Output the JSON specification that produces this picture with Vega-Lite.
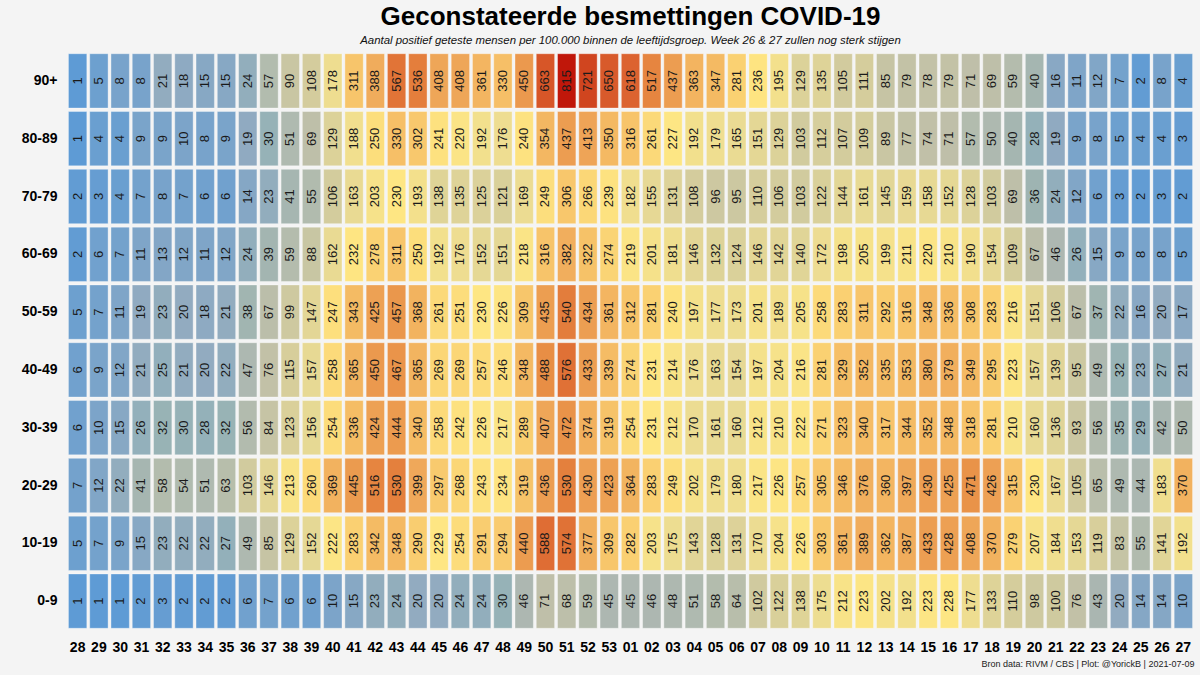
{
"$schema": "https://vega.github.io/schema/vega-lite/v6.json",
"width": 1127, "height": 578,
"autosize": {"type": "none"},
"padding": {"left": 67, "top": 52, "right": 6, "bottom": 45},
"background": "#f4f4f4",
"config": {"view": {"stroke": null}, "font": "Liberation Sans"},
"title": {"text": "Geconstateerde besmettingen COVID-19", "subtitle": "Aantal positief geteste mensen per 100.000 binnen de leeftijdsgroep. Week 26 & 27 zullen nog sterk stijgen", "font": "Liberation Sans", "fontSize": 26, "fontWeight": "bold", "color": "#000", "subtitleFont": "Liberation Sans", "subtitleFontSize": 11.4, "subtitleFontStyle": "italic", "subtitleColor": "#111", "subtitlePadding": 5, "anchor": "middle", "offset": 6},
"data": {"values": [
{"a":"90+","w":"28","v":1},{"a":"90+","w":"29","v":5},{"a":"90+","w":"30","v":8},{"a":"90+","w":"31","v":8},{"a":"90+","w":"32","v":21},{"a":"90+","w":"33","v":18},{"a":"90+","w":"34","v":15},{"a":"90+","w":"35","v":15},{"a":"90+","w":"36","v":24},{"a":"90+","w":"37","v":57},{"a":"90+","w":"38","v":90},{"a":"90+","w":"39","v":108},{"a":"90+","w":"40","v":178},{"a":"90+","w":"41","v":311},{"a":"90+","w":"42","v":388},{"a":"90+","w":"43","v":567},{"a":"90+","w":"44","v":536},{"a":"90+","w":"45","v":408},{"a":"90+","w":"46","v":408},{"a":"90+","w":"47","v":361},{"a":"90+","w":"48","v":330},{"a":"90+","w":"49","v":450},{"a":"90+","w":"50","v":663},{"a":"90+","w":"51","v":815},{"a":"90+","w":"52","v":721},{"a":"90+","w":"53","v":650},{"a":"90+","w":"01","v":618},{"a":"90+","w":"02","v":517},{"a":"90+","w":"03","v":437},{"a":"90+","w":"04","v":363},{"a":"90+","w":"05","v":347},{"a":"90+","w":"06","v":281},{"a":"90+","w":"07","v":236},{"a":"90+","w":"08","v":195},{"a":"90+","w":"09","v":129},{"a":"90+","w":"10","v":135},{"a":"90+","w":"11","v":105},{"a":"90+","w":"12","v":111},{"a":"90+","w":"13","v":85},{"a":"90+","w":"14","v":79},{"a":"90+","w":"15","v":78},{"a":"90+","w":"16","v":79},{"a":"90+","w":"17","v":71},{"a":"90+","w":"18","v":69},{"a":"90+","w":"19","v":59},{"a":"90+","w":"20","v":40},{"a":"90+","w":"21","v":16},{"a":"90+","w":"22","v":11},{"a":"90+","w":"23","v":12},{"a":"90+","w":"24","v":7},{"a":"90+","w":"25","v":2},{"a":"90+","w":"26","v":8},{"a":"90+","w":"27","v":4},
{"a":"80-89","w":"28","v":1},{"a":"80-89","w":"29","v":4},{"a":"80-89","w":"30","v":4},{"a":"80-89","w":"31","v":9},{"a":"80-89","w":"32","v":9},{"a":"80-89","w":"33","v":10},{"a":"80-89","w":"34","v":8},{"a":"80-89","w":"35","v":9},{"a":"80-89","w":"36","v":19},{"a":"80-89","w":"37","v":30},{"a":"80-89","w":"38","v":51},{"a":"80-89","w":"39","v":69},{"a":"80-89","w":"40","v":129},{"a":"80-89","w":"41","v":188},{"a":"80-89","w":"42","v":250},{"a":"80-89","w":"43","v":330},{"a":"80-89","w":"44","v":302},{"a":"80-89","w":"45","v":241},{"a":"80-89","w":"46","v":220},{"a":"80-89","w":"47","v":192},{"a":"80-89","w":"48","v":176},{"a":"80-89","w":"49","v":240},{"a":"80-89","w":"50","v":354},{"a":"80-89","w":"51","v":437},{"a":"80-89","w":"52","v":413},{"a":"80-89","w":"53","v":350},{"a":"80-89","w":"01","v":316},{"a":"80-89","w":"02","v":261},{"a":"80-89","w":"03","v":227},{"a":"80-89","w":"04","v":192},{"a":"80-89","w":"05","v":179},{"a":"80-89","w":"06","v":165},{"a":"80-89","w":"07","v":151},{"a":"80-89","w":"08","v":129},{"a":"80-89","w":"09","v":103},{"a":"80-89","w":"10","v":112},{"a":"80-89","w":"11","v":107},{"a":"80-89","w":"12","v":109},{"a":"80-89","w":"13","v":89},{"a":"80-89","w":"14","v":77},{"a":"80-89","w":"15","v":74},{"a":"80-89","w":"16","v":71},{"a":"80-89","w":"17","v":57},{"a":"80-89","w":"18","v":50},{"a":"80-89","w":"19","v":40},{"a":"80-89","w":"20","v":28},{"a":"80-89","w":"21","v":19},{"a":"80-89","w":"22","v":9},{"a":"80-89","w":"23","v":8},{"a":"80-89","w":"24","v":5},{"a":"80-89","w":"25","v":4},{"a":"80-89","w":"26","v":4},{"a":"80-89","w":"27","v":3},
{"a":"70-79","w":"28","v":2},{"a":"70-79","w":"29","v":3},{"a":"70-79","w":"30","v":4},{"a":"70-79","w":"31","v":7},{"a":"70-79","w":"32","v":8},{"a":"70-79","w":"33","v":7},{"a":"70-79","w":"34","v":6},{"a":"70-79","w":"35","v":6},{"a":"70-79","w":"36","v":14},{"a":"70-79","w":"37","v":23},{"a":"70-79","w":"38","v":41},{"a":"70-79","w":"39","v":55},{"a":"70-79","w":"40","v":106},{"a":"70-79","w":"41","v":163},{"a":"70-79","w":"42","v":203},{"a":"70-79","w":"43","v":230},{"a":"70-79","w":"44","v":193},{"a":"70-79","w":"45","v":138},{"a":"70-79","w":"46","v":135},{"a":"70-79","w":"47","v":125},{"a":"70-79","w":"48","v":121},{"a":"70-79","w":"49","v":169},{"a":"70-79","w":"50","v":249},{"a":"70-79","w":"51","v":306},{"a":"70-79","w":"52","v":266},{"a":"70-79","w":"53","v":239},{"a":"70-79","w":"01","v":182},{"a":"70-79","w":"02","v":155},{"a":"70-79","w":"03","v":131},{"a":"70-79","w":"04","v":108},{"a":"70-79","w":"05","v":96},{"a":"70-79","w":"06","v":95},{"a":"70-79","w":"07","v":110},{"a":"70-79","w":"08","v":106},{"a":"70-79","w":"09","v":103},{"a":"70-79","w":"10","v":122},{"a":"70-79","w":"11","v":144},{"a":"70-79","w":"12","v":161},{"a":"70-79","w":"13","v":145},{"a":"70-79","w":"14","v":159},{"a":"70-79","w":"15","v":158},{"a":"70-79","w":"16","v":152},{"a":"70-79","w":"17","v":128},{"a":"70-79","w":"18","v":103},{"a":"70-79","w":"19","v":69},{"a":"70-79","w":"20","v":36},{"a":"70-79","w":"21","v":24},{"a":"70-79","w":"22","v":12},{"a":"70-79","w":"23","v":6},{"a":"70-79","w":"24","v":3},{"a":"70-79","w":"25","v":2},{"a":"70-79","w":"26","v":3},{"a":"70-79","w":"27","v":2},
{"a":"60-69","w":"28","v":2},{"a":"60-69","w":"29","v":6},{"a":"60-69","w":"30","v":7},{"a":"60-69","w":"31","v":11},{"a":"60-69","w":"32","v":13},{"a":"60-69","w":"33","v":12},{"a":"60-69","w":"34","v":11},{"a":"60-69","w":"35","v":12},{"a":"60-69","w":"36","v":24},{"a":"60-69","w":"37","v":39},{"a":"60-69","w":"38","v":59},{"a":"60-69","w":"39","v":88},{"a":"60-69","w":"40","v":162},{"a":"60-69","w":"41","v":232},{"a":"60-69","w":"42","v":278},{"a":"60-69","w":"43","v":311},{"a":"60-69","w":"44","v":250},{"a":"60-69","w":"45","v":192},{"a":"60-69","w":"46","v":176},{"a":"60-69","w":"47","v":152},{"a":"60-69","w":"48","v":151},{"a":"60-69","w":"49","v":218},{"a":"60-69","w":"50","v":316},{"a":"60-69","w":"51","v":382},{"a":"60-69","w":"52","v":322},{"a":"60-69","w":"53","v":274},{"a":"60-69","w":"01","v":219},{"a":"60-69","w":"02","v":201},{"a":"60-69","w":"03","v":181},{"a":"60-69","w":"04","v":146},{"a":"60-69","w":"05","v":132},{"a":"60-69","w":"06","v":124},{"a":"60-69","w":"07","v":146},{"a":"60-69","w":"08","v":142},{"a":"60-69","w":"09","v":140},{"a":"60-69","w":"10","v":172},{"a":"60-69","w":"11","v":198},{"a":"60-69","w":"12","v":205},{"a":"60-69","w":"13","v":199},{"a":"60-69","w":"14","v":211},{"a":"60-69","w":"15","v":220},{"a":"60-69","w":"16","v":210},{"a":"60-69","w":"17","v":190},{"a":"60-69","w":"18","v":154},{"a":"60-69","w":"19","v":109},{"a":"60-69","w":"20","v":67},{"a":"60-69","w":"21","v":46},{"a":"60-69","w":"22","v":26},{"a":"60-69","w":"23","v":15},{"a":"60-69","w":"24","v":9},{"a":"60-69","w":"25","v":8},{"a":"60-69","w":"26","v":8},{"a":"60-69","w":"27","v":5},
{"a":"50-59","w":"28","v":5},{"a":"50-59","w":"29","v":7},{"a":"50-59","w":"30","v":11},{"a":"50-59","w":"31","v":19},{"a":"50-59","w":"32","v":23},{"a":"50-59","w":"33","v":20},{"a":"50-59","w":"34","v":18},{"a":"50-59","w":"35","v":21},{"a":"50-59","w":"36","v":38},{"a":"50-59","w":"37","v":67},{"a":"50-59","w":"38","v":99},{"a":"50-59","w":"39","v":147},{"a":"50-59","w":"40","v":247},{"a":"50-59","w":"41","v":343},{"a":"50-59","w":"42","v":425},{"a":"50-59","w":"43","v":457},{"a":"50-59","w":"44","v":368},{"a":"50-59","w":"45","v":261},{"a":"50-59","w":"46","v":251},{"a":"50-59","w":"47","v":230},{"a":"50-59","w":"48","v":226},{"a":"50-59","w":"49","v":309},{"a":"50-59","w":"50","v":435},{"a":"50-59","w":"51","v":540},{"a":"50-59","w":"52","v":434},{"a":"50-59","w":"53","v":361},{"a":"50-59","w":"01","v":312},{"a":"50-59","w":"02","v":281},{"a":"50-59","w":"03","v":240},{"a":"50-59","w":"04","v":197},{"a":"50-59","w":"05","v":177},{"a":"50-59","w":"06","v":173},{"a":"50-59","w":"07","v":201},{"a":"50-59","w":"08","v":189},{"a":"50-59","w":"09","v":205},{"a":"50-59","w":"10","v":258},{"a":"50-59","w":"11","v":283},{"a":"50-59","w":"12","v":311},{"a":"50-59","w":"13","v":292},{"a":"50-59","w":"14","v":316},{"a":"50-59","w":"15","v":348},{"a":"50-59","w":"16","v":336},{"a":"50-59","w":"17","v":308},{"a":"50-59","w":"18","v":283},{"a":"50-59","w":"19","v":216},{"a":"50-59","w":"20","v":151},{"a":"50-59","w":"21","v":106},{"a":"50-59","w":"22","v":67},{"a":"50-59","w":"23","v":37},{"a":"50-59","w":"24","v":22},{"a":"50-59","w":"25","v":16},{"a":"50-59","w":"26","v":20},{"a":"50-59","w":"27","v":17},
{"a":"40-49","w":"28","v":6},{"a":"40-49","w":"29","v":9},{"a":"40-49","w":"30","v":12},{"a":"40-49","w":"31","v":21},{"a":"40-49","w":"32","v":25},{"a":"40-49","w":"33","v":21},{"a":"40-49","w":"34","v":20},{"a":"40-49","w":"35","v":22},{"a":"40-49","w":"36","v":47},{"a":"40-49","w":"37","v":76},{"a":"40-49","w":"38","v":115},{"a":"40-49","w":"39","v":157},{"a":"40-49","w":"40","v":258},{"a":"40-49","w":"41","v":365},{"a":"40-49","w":"42","v":450},{"a":"40-49","w":"43","v":467},{"a":"40-49","w":"44","v":365},{"a":"40-49","w":"45","v":269},{"a":"40-49","w":"46","v":269},{"a":"40-49","w":"47","v":257},{"a":"40-49","w":"48","v":246},{"a":"40-49","w":"49","v":348},{"a":"40-49","w":"50","v":488},{"a":"40-49","w":"51","v":576},{"a":"40-49","w":"52","v":433},{"a":"40-49","w":"53","v":339},{"a":"40-49","w":"01","v":274},{"a":"40-49","w":"02","v":231},{"a":"40-49","w":"03","v":214},{"a":"40-49","w":"04","v":176},{"a":"40-49","w":"05","v":163},{"a":"40-49","w":"06","v":154},{"a":"40-49","w":"07","v":197},{"a":"40-49","w":"08","v":204},{"a":"40-49","w":"09","v":216},{"a":"40-49","w":"10","v":281},{"a":"40-49","w":"11","v":329},{"a":"40-49","w":"12","v":352},{"a":"40-49","w":"13","v":335},{"a":"40-49","w":"14","v":353},{"a":"40-49","w":"15","v":380},{"a":"40-49","w":"16","v":379},{"a":"40-49","w":"17","v":349},{"a":"40-49","w":"18","v":295},{"a":"40-49","w":"19","v":223},{"a":"40-49","w":"20","v":157},{"a":"40-49","w":"21","v":139},{"a":"40-49","w":"22","v":95},{"a":"40-49","w":"23","v":49},{"a":"40-49","w":"24","v":32},{"a":"40-49","w":"25","v":23},{"a":"40-49","w":"26","v":27},{"a":"40-49","w":"27","v":21},
{"a":"30-39","w":"28","v":6},{"a":"30-39","w":"29","v":10},{"a":"30-39","w":"30","v":15},{"a":"30-39","w":"31","v":26},{"a":"30-39","w":"32","v":32},{"a":"30-39","w":"33","v":30},{"a":"30-39","w":"34","v":28},{"a":"30-39","w":"35","v":32},{"a":"30-39","w":"36","v":56},{"a":"30-39","w":"37","v":84},{"a":"30-39","w":"38","v":123},{"a":"30-39","w":"39","v":156},{"a":"30-39","w":"40","v":254},{"a":"30-39","w":"41","v":336},{"a":"30-39","w":"42","v":424},{"a":"30-39","w":"43","v":444},{"a":"30-39","w":"44","v":340},{"a":"30-39","w":"45","v":258},{"a":"30-39","w":"46","v":242},{"a":"30-39","w":"47","v":226},{"a":"30-39","w":"48","v":217},{"a":"30-39","w":"49","v":289},{"a":"30-39","w":"50","v":407},{"a":"30-39","w":"51","v":472},{"a":"30-39","w":"52","v":374},{"a":"30-39","w":"53","v":319},{"a":"30-39","w":"01","v":254},{"a":"30-39","w":"02","v":231},{"a":"30-39","w":"03","v":212},{"a":"30-39","w":"04","v":170},{"a":"30-39","w":"05","v":161},{"a":"30-39","w":"06","v":160},{"a":"30-39","w":"07","v":212},{"a":"30-39","w":"08","v":210},{"a":"30-39","w":"09","v":222},{"a":"30-39","w":"10","v":271},{"a":"30-39","w":"11","v":323},{"a":"30-39","w":"12","v":340},{"a":"30-39","w":"13","v":317},{"a":"30-39","w":"14","v":344},{"a":"30-39","w":"15","v":352},{"a":"30-39","w":"16","v":348},{"a":"30-39","w":"17","v":318},{"a":"30-39","w":"18","v":281},{"a":"30-39","w":"19","v":210},{"a":"30-39","w":"20","v":160},{"a":"30-39","w":"21","v":136},{"a":"30-39","w":"22","v":93},{"a":"30-39","w":"23","v":56},{"a":"30-39","w":"24","v":35},{"a":"30-39","w":"25","v":29},{"a":"30-39","w":"26","v":42},{"a":"30-39","w":"27","v":50},
{"a":"20-29","w":"28","v":7},{"a":"20-29","w":"29","v":12},{"a":"20-29","w":"30","v":22},{"a":"20-29","w":"31","v":41},{"a":"20-29","w":"32","v":58},{"a":"20-29","w":"33","v":54},{"a":"20-29","w":"34","v":51},{"a":"20-29","w":"35","v":63},{"a":"20-29","w":"36","v":103},{"a":"20-29","w":"37","v":146},{"a":"20-29","w":"38","v":213},{"a":"20-29","w":"39","v":260},{"a":"20-29","w":"40","v":369},{"a":"20-29","w":"41","v":445},{"a":"20-29","w":"42","v":516},{"a":"20-29","w":"43","v":530},{"a":"20-29","w":"44","v":399},{"a":"20-29","w":"45","v":297},{"a":"20-29","w":"46","v":268},{"a":"20-29","w":"47","v":243},{"a":"20-29","w":"48","v":234},{"a":"20-29","w":"49","v":319},{"a":"20-29","w":"50","v":436},{"a":"20-29","w":"51","v":530},{"a":"20-29","w":"52","v":430},{"a":"20-29","w":"53","v":423},{"a":"20-29","w":"01","v":364},{"a":"20-29","w":"02","v":283},{"a":"20-29","w":"03","v":249},{"a":"20-29","w":"04","v":202},{"a":"20-29","w":"05","v":179},{"a":"20-29","w":"06","v":180},{"a":"20-29","w":"07","v":217},{"a":"20-29","w":"08","v":226},{"a":"20-29","w":"09","v":257},{"a":"20-29","w":"10","v":305},{"a":"20-29","w":"11","v":346},{"a":"20-29","w":"12","v":376},{"a":"20-29","w":"13","v":360},{"a":"20-29","w":"14","v":397},{"a":"20-29","w":"15","v":430},{"a":"20-29","w":"16","v":425},{"a":"20-29","w":"17","v":471},{"a":"20-29","w":"18","v":426},{"a":"20-29","w":"19","v":315},{"a":"20-29","w":"20","v":230},{"a":"20-29","w":"21","v":167},{"a":"20-29","w":"22","v":105},{"a":"20-29","w":"23","v":65},{"a":"20-29","w":"24","v":49},{"a":"20-29","w":"25","v":44},{"a":"20-29","w":"26","v":183},{"a":"20-29","w":"27","v":370},
{"a":"10-19","w":"28","v":5},{"a":"10-19","w":"29","v":7},{"a":"10-19","w":"30","v":9},{"a":"10-19","w":"31","v":15},{"a":"10-19","w":"32","v":23},{"a":"10-19","w":"33","v":22},{"a":"10-19","w":"34","v":22},{"a":"10-19","w":"35","v":27},{"a":"10-19","w":"36","v":49},{"a":"10-19","w":"37","v":85},{"a":"10-19","w":"38","v":129},{"a":"10-19","w":"39","v":152},{"a":"10-19","w":"40","v":222},{"a":"10-19","w":"41","v":283},{"a":"10-19","w":"42","v":342},{"a":"10-19","w":"43","v":348},{"a":"10-19","w":"44","v":290},{"a":"10-19","w":"45","v":229},{"a":"10-19","w":"46","v":254},{"a":"10-19","w":"47","v":291},{"a":"10-19","w":"48","v":294},{"a":"10-19","w":"49","v":440},{"a":"10-19","w":"50","v":588},{"a":"10-19","w":"51","v":574},{"a":"10-19","w":"52","v":377},{"a":"10-19","w":"53","v":309},{"a":"10-19","w":"01","v":282},{"a":"10-19","w":"02","v":203},{"a":"10-19","w":"03","v":175},{"a":"10-19","w":"04","v":143},{"a":"10-19","w":"05","v":128},{"a":"10-19","w":"06","v":131},{"a":"10-19","w":"07","v":170},{"a":"10-19","w":"08","v":204},{"a":"10-19","w":"09","v":226},{"a":"10-19","w":"10","v":303},{"a":"10-19","w":"11","v":361},{"a":"10-19","w":"12","v":389},{"a":"10-19","w":"13","v":362},{"a":"10-19","w":"14","v":387},{"a":"10-19","w":"15","v":433},{"a":"10-19","w":"16","v":428},{"a":"10-19","w":"17","v":408},{"a":"10-19","w":"18","v":370},{"a":"10-19","w":"19","v":279},{"a":"10-19","w":"20","v":207},{"a":"10-19","w":"21","v":184},{"a":"10-19","w":"22","v":153},{"a":"10-19","w":"23","v":119},{"a":"10-19","w":"24","v":83},{"a":"10-19","w":"25","v":55},{"a":"10-19","w":"26","v":141},{"a":"10-19","w":"27","v":192},
{"a":"0-9","w":"28","v":1},{"a":"0-9","w":"29","v":1},{"a":"0-9","w":"30","v":1},{"a":"0-9","w":"31","v":2},{"a":"0-9","w":"32","v":3},{"a":"0-9","w":"33","v":2},{"a":"0-9","w":"34","v":2},{"a":"0-9","w":"35","v":2},{"a":"0-9","w":"36","v":6},{"a":"0-9","w":"37","v":7},{"a":"0-9","w":"38","v":6},{"a":"0-9","w":"39","v":6},{"a":"0-9","w":"40","v":10},{"a":"0-9","w":"41","v":15},{"a":"0-9","w":"42","v":23},{"a":"0-9","w":"43","v":24},{"a":"0-9","w":"44","v":20},{"a":"0-9","w":"45","v":20},{"a":"0-9","w":"46","v":24},{"a":"0-9","w":"47","v":24},{"a":"0-9","w":"48","v":30},{"a":"0-9","w":"49","v":46},{"a":"0-9","w":"50","v":71},{"a":"0-9","w":"51","v":68},{"a":"0-9","w":"52","v":59},{"a":"0-9","w":"53","v":45},{"a":"0-9","w":"01","v":45},{"a":"0-9","w":"02","v":46},{"a":"0-9","w":"03","v":48},{"a":"0-9","w":"04","v":51},{"a":"0-9","w":"05","v":58},{"a":"0-9","w":"06","v":64},{"a":"0-9","w":"07","v":102},{"a":"0-9","w":"08","v":122},{"a":"0-9","w":"09","v":138},{"a":"0-9","w":"10","v":175},{"a":"0-9","w":"11","v":212},{"a":"0-9","w":"12","v":223},{"a":"0-9","w":"13","v":202},{"a":"0-9","w":"14","v":192},{"a":"0-9","w":"15","v":223},{"a":"0-9","w":"16","v":228},{"a":"0-9","w":"17","v":177},{"a":"0-9","w":"18","v":133},{"a":"0-9","w":"19","v":110},{"a":"0-9","w":"20","v":98},{"a":"0-9","w":"21","v":100},{"a":"0-9","w":"22","v":76},{"a":"0-9","w":"23","v":43},{"a":"0-9","w":"24","v":20},{"a":"0-9","w":"25","v":14},{"a":"0-9","w":"26","v":14},{"a":"0-9","w":"27","v":10}
]},
"encoding": {
 "x": {"field": "w", "type": "ordinal",
  "sort": ["28","29","30","31","32","33","34","35","36","37","38","39","40","41","42","43","44","45","46","47","48","49","50","51","52","53","01","02","03","04","05","06","07","08","09","10","11","12","13","14","15","16","17","18","19","20","21","22","23","24","25","26","27"],
  "scale": {"paddingInner": 0.136, "paddingOuter": 0.068},
  "axis": {"title": "Bron data: RIVM / CBS  | Plot: @YorickB |  2021-07-09", "titleAnchor": "end", "titleFontSize": 9, "titleFontWeight": "normal", "titleFont": "Liberation Sans", "titleColor": "#222", "titlePadding": 5, "labelFont": "Liberation Sans", "labelFontSize": 14, "labelFontWeight": "bold", "labelColor": "#000", "labelAngle": 0, "labelPadding": 10, "ticks": false, "domain": false, "grid": false, "orient": "bottom"}},
 "y": {"field": "a", "type": "ordinal",
  "sort": ["90+","80-89","70-79","60-69","50-59","40-49","30-39","20-29","10-19","0-9"],
  "scale": {"paddingInner": 0.06, "paddingOuter": 0.03},
  "axis": {"title": null, "labelFont": "Liberation Sans", "labelFontSize": 14, "labelFontWeight": "bold", "labelColor": "#000", "labelPadding": 10, "ticks": false, "domain": false, "grid": false}}
},
"layer": [
 {"mark": {"type": "rect", "stroke": "#ffffff", "strokeOpacity": 0.35, "strokeWidth": 1},
  "encoding": {"color": {"field": "v", "type": "quantitative", "legend": null,
   "scale": {"type": "linear", "domain": [0, 8, 20, 45, 70, 110, 170, 230, 300, 400, 500, 620, 720, 815],
    "range": ["#5a9ad6", "#78a3cb", "#92abc0", "#adb7b1", "#bfbfa9", "#d5cd9c", "#ecdc92", "#fee683", "#f8c96d", "#efa85a", "#e78a43", "#dc6230", "#d0451f", "#c0170a"]}}}},
 {"mark": {"type": "text", "angle": 270, "font": "Liberation Sans", "fontSize": 13, "color": "#1a1a1a", "baseline": "middle", "align": "center"},
  "encoding": {"text": {"field": "v", "type": "quantitative"}}}
]
}
